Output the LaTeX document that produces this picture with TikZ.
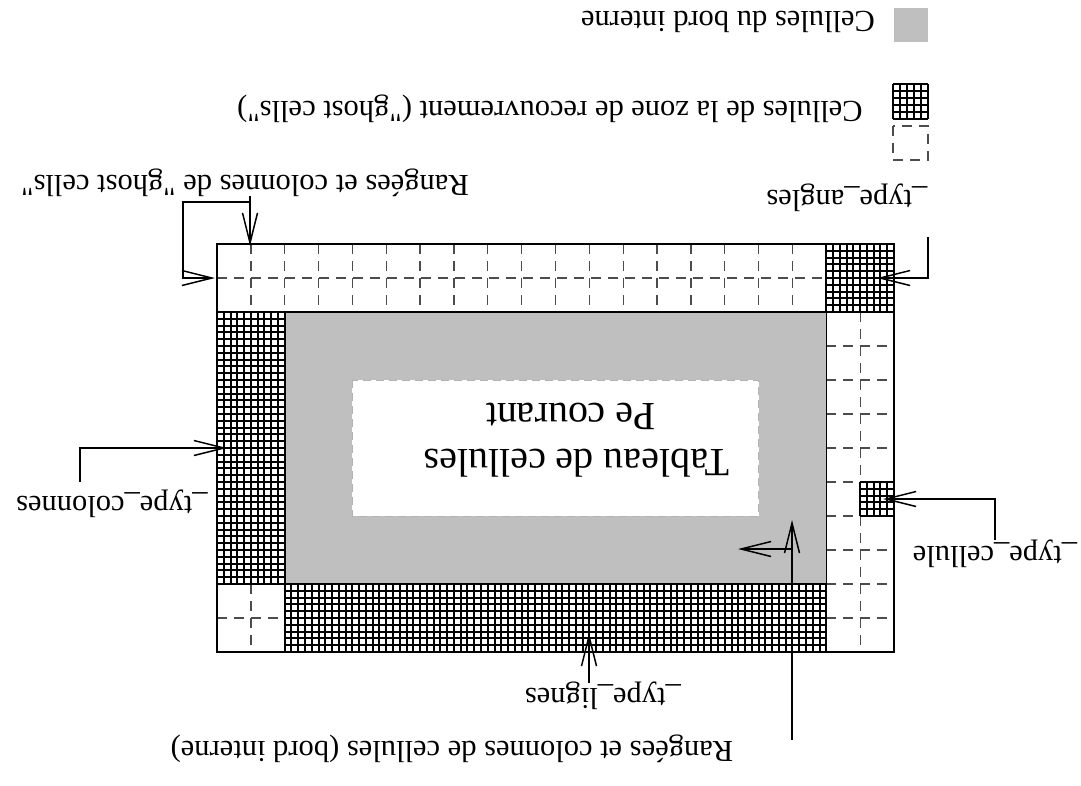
\documentclass[tikz,border=0pt]{standalone}
\usepackage{fontspec}
\setmainfont{Liberation Serif}[Ligatures=TeXOff]
\usetikzlibrary{arrows.meta}
\definecolor{cellgray}{RGB}{191,191,191}
\newcommand\hatchreg[4]{%
  \pgfmathtruncatemacro\hnx{5*(#3-#1)}%
  \pgfmathtruncatemacro\hny{5*(#4-#2)}%
  \foreach \k in {0,...,\hnx}{\draw[hatchline] ({#1+\k/5},#2) -- ({#1+\k/5},#4);}%
  \foreach \k in {0,...,\hny}{\draw[hatchline] (#1,{#2+\k/5}) -- (#3,{#2+\k/5});}%
}
\begin{document}
\begin{tikzpicture}[x=1pt,y=-1pt,
  lab/.style={rotate=180,font=\fontsize{30.5}{35}\selectfont,inner sep=0pt},
  arr/.style={line width=1.5pt,-{Straight Barb[length=30pt,width=15pt,line width=1.5pt]}},
  ghost/.style={draw=black!70,line width=1.3pt,dash pattern=on 10pt off 7pt},
  hatchline/.style={line width=2pt,black},
]
\useasboundingbox (0,0) rectangle (1081,785);
\fill[white] (0,0) rectangle (1081,785);

\begin{scope}[shift={(217,244)},x=33.85pt,y=-34pt]
  \fill[cellgray] (2,2) rectangle (18,10);
  \fill[white] (4,4) rectangle (16,8);
  \draw[draw=black!30,line width=1pt,dash pattern=on 8pt off 5pt] (4,4) rectangle (16,8);
  \foreach \i in {1,...,17} \draw[ghost] (\i,0) -- (\i,2);
  \draw[ghost] (0,1) -- (18,1);
  \draw[ghost] (19,2) -- (19,12);
  \foreach \j in {3,...,11} \draw[ghost] (18,\j) -- (20,\j);
  \draw[ghost] (1,10) -- (1,12);
  \draw[ghost] (0,11) -- (2,11);
  \hatchreg{18}{0}{20}{2}
  \hatchreg{0}{2}{2}{10}
  \hatchreg{2}{10}{18}{12}
  \hatchreg{19}{7}{20}{8}
  \draw[line width=1.5pt] (2,2) rectangle (18,10);
  \draw[line width=1.2pt] (0,0) rectangle (20,12);
\end{scope}

% legend
\fill[cellgray] (894,8) rectangle (928,42);
\foreach \k in {0,...,5}{
  \draw[hatchline] ({893+7*\k},84) -- ({893+7*\k},119);
  \draw[hatchline] (893,{84+7*\k}) -- (928,{84+7*\k});
}
\draw[ghost] (893,126) rectangle (928,160);

% labels
\node[lab] (leg1) at (728,22) {Cellules du bord interne};
\node[lab] (leg2) at (550,109) {Cellules de la zone de recouvrement ("ghost cells")};
\node[lab] (lghost) at (245,183) {Rangées et colonnes de "ghost cells"};
\node[lab] (langles) at (847,198) {\_type\_angles};
\node[lab] (lcol) at (112,504) {\_type\_colonnes};
\node[lab] (lcell) at (995,554) {\_type\_cellule};
\node[lab] (llig) at (603,696) {\_type\_lignes};
\node[lab] (lbord) at (452,749) {Rangées et colonnes de cellules (bord interne)};
\node[lab,font=\fontsize{40}{46}\selectfont,anchor=base] (ltab1) at (577,449) {Tableau de cellules};
\node[lab,font=\fontsize{40}{46}\selectfont,anchor=base] (ltab2) at (571,403) {Pe courant};

% connectors
\coordinate (aS) at (928,237); \coordinate (aT) at (877,278);
\draw[arr] (aS) |- (aT);
\coordinate (gS) at (250,196); \coordinate (gT) at (250,246);
\coordinate (gJ) at (250,202); \coordinate (gK) at (183,278); \coordinate (gT2) at (215,278);
\draw[arr] (gS) -- (gT);
\draw[arr] (gJ) -| (gK) -- (gT2);
\coordinate (cS) at (80,482); \coordinate (cT) at (227,448);
\draw[arr] (cS) |- (cT);
\coordinate (eS) at (995,540); \coordinate (eT) at (883,499);
\draw[arr] (eS) |- (eT);
\coordinate (lS) at (589,683); \coordinate (lT) at (589,633);
\draw[arr] (lS) -- (lT);
\coordinate (bS) at (792,740); \coordinate (bT) at (792,520);
\coordinate (bJ) at (792,549); \coordinate (bT2) at (738,549);
\draw[arr] (bS) -- (bT);
\draw[arr] (bJ) -- (bT2);
\end{tikzpicture}
\end{document}
